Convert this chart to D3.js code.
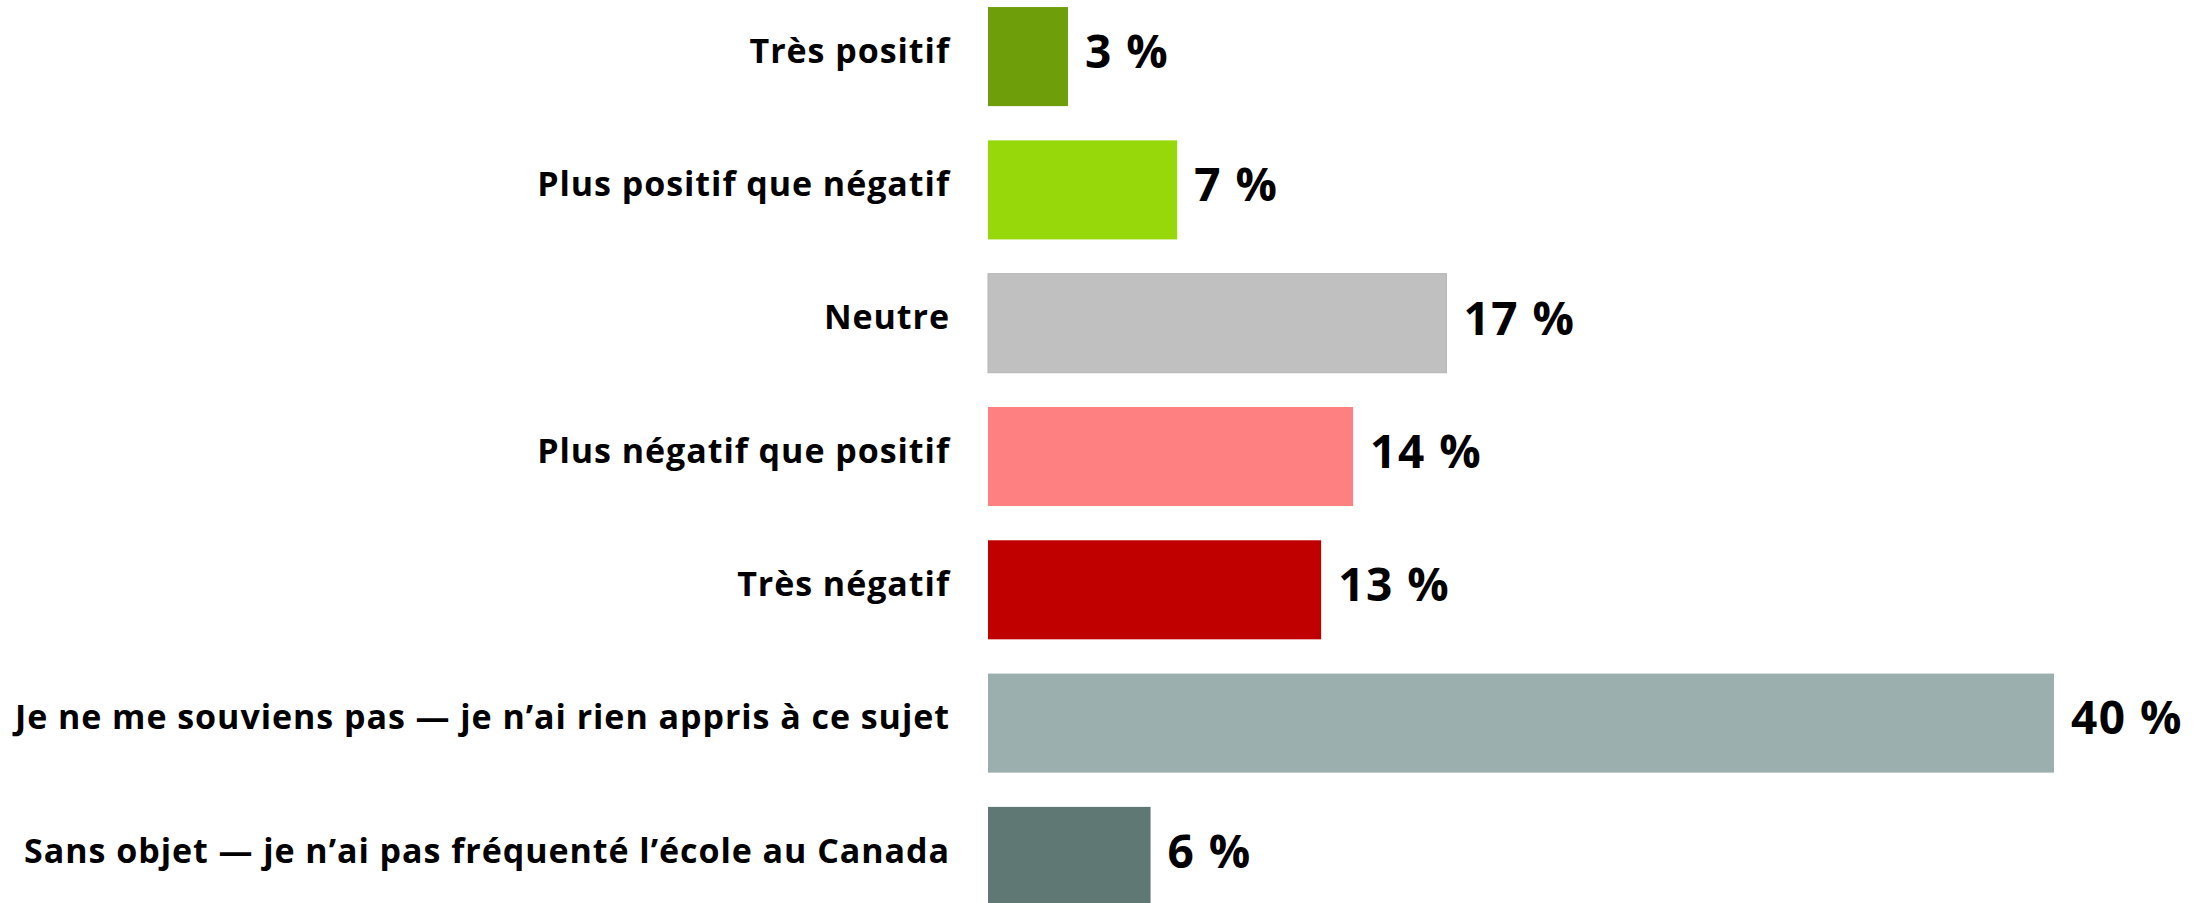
<!DOCTYPE html>
<html lang="fr">
<head>
<meta charset="UTF-8">
<title>Répartition des réponses</title>
<script src="https://d3js.org/d3.v7.min.js"></script>
<style>
  body { margin: 0; background: #fff; }
  text { font-family: "Open Sans", Lato, sans-serif; font-weight: 700; fill: #000; }
</style>
</head>
<body>
<svg id="chart" width="2211" height="903"></svg>
<script>
// Categories and values (bar lengths estimated)
const categories = [
    "Très positif",
    "Plus positif que négatif",
    "Neutre",
    "Plus négatif que positif",
    "Très négatif",
    "Je ne me souviens pas — je n’ai rien appris à ce sujet",
    "Sans objet — je n’ai pas fréquenté l’école au Canada"
];
const values = [3.0, 7.1, 17.2, 13.7, 12.5, 40.0, 6.1];
const valueLabels = ["3 %", "7 %", "17 %", "14 %", "13 %", "40 %", "6 %"];
const colors = ["#6e9e0a", "#97d80a", "#c0c0c0", "#ff8080", "#c00000", "#9bb0ae", "#5f7874"];

const svg = d3.select("#chart");

// bars start at x=988, row pitch ~133px
const x = d3.scaleLinear()
    .domain([0, 40])
    .range([988, 2054]);

const y = d3.scaleBand()
    .domain(categories)
    .range([-10, 923])
    .paddingInner(0.257)
    .paddingOuter(0.128);

// Bars
svg.selectAll("rect.bar")
    .data(categories)
    .join("rect")
    .attr("class", "bar")
    .attr("x", x(0))
    .attr("y", d => y(d))
    .attr("width", (d, i) => x(values[i]) - x(0))
    .attr("height", y.bandwidth())
    .attr("fill", (d, i) => colors[i])
    .attr("stroke", (d, i) => i === 2 ? "#b4b4b4" : "none")
    .attr("stroke-width", 1);

// Category labels
svg.selectAll("text.cat")
    .data(categories)
    .join("text")
    .attr("class", "cat")
    .attr("x", 950)
    .attr("y", d => y(d) + y.bandwidth() / 2 - 3)
    .attr("text-anchor", "end")
    .attr("dominant-baseline", "middle")
    .style("font-size", "34px")
    .style("letter-spacing", "0.95px")
    .text(d => d);

// Value labels
svg.selectAll("text.val")
    .data(categories)
    .join("text")
    .attr("class", "val")
    .attr("x", (d, i) => x(values[i]) + 17)
    .attr("y", d => y(d) + y.bandwidth() / 2 - 1)
    .attr("dominant-baseline", "middle")
    .style("font-size", "46px")
    .style("letter-spacing", "1.5px")
    .text((d, i) => valueLabels[i]);
</script>
</body>
</html>
